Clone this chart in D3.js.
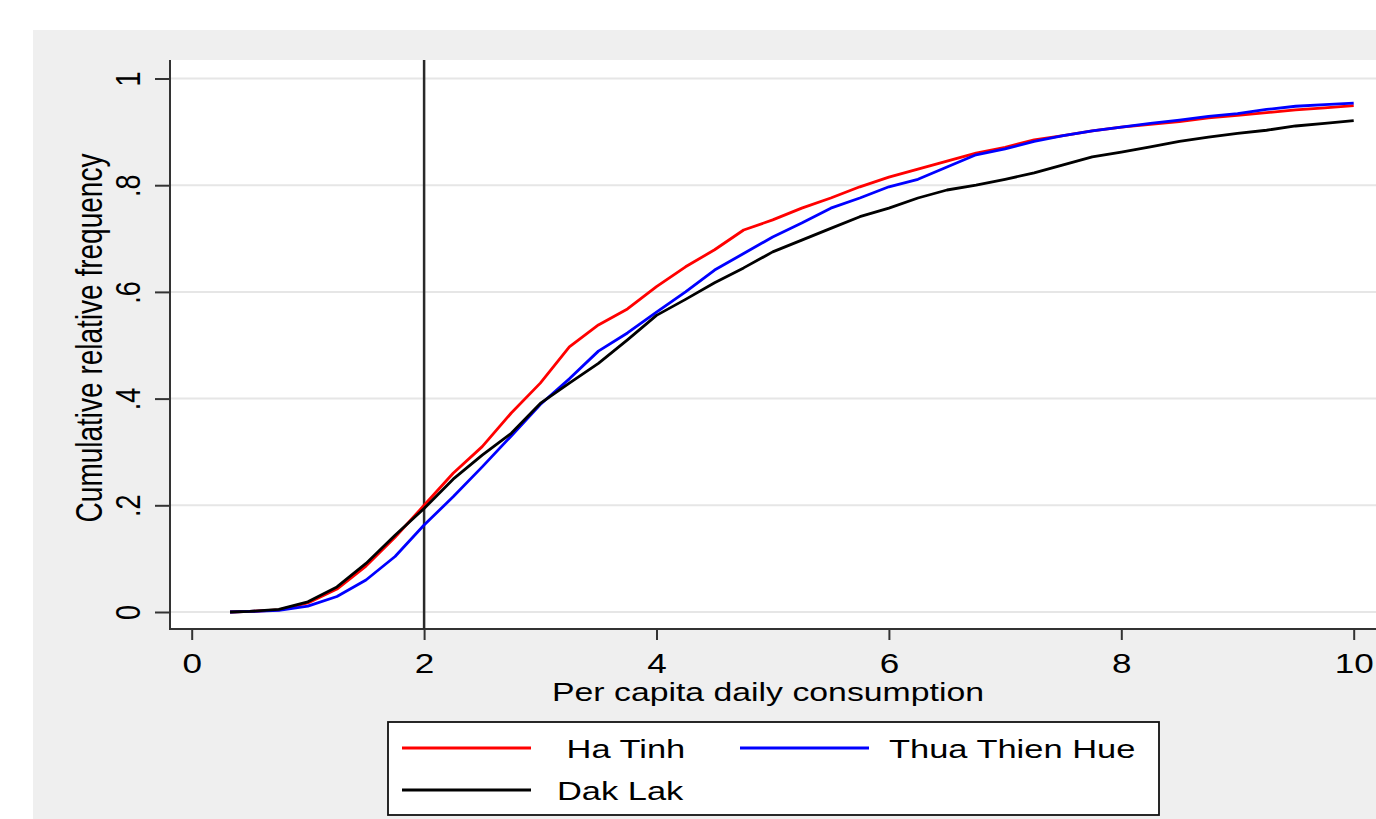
<!DOCTYPE html>
<html>
<head>
<meta charset="utf-8">
<script src="https://cdn.jsdelivr.net/npm/d3@7"></script>
<style>
  html, body { margin: 0; padding: 0; background: #fff; }
  svg { display: block; font-family: "Liberation Sans", Arial, sans-serif; }
</style>
</head>
<body>
<main></main>
<script>
// cumulative distribution of per capita daily consumption
let consumption = [0.33, 0.5, 0.75, 1.0, 1.25, 1.5, 1.75, 2.0, 2.25, 2.5, 2.75, 3.0, 3.25, 3.5, 3.75,
  4.0, 4.25, 4.5, 4.75, 5.0, 5.25, 5.5, 5.75, 6.0, 6.25, 6.5, 6.75, 7.0, 7.25, 7.5, 7.75,
  8.0, 8.25, 8.5, 8.75, 9.0, 9.25, 9.5, 9.75, 10.0];

let haTinh = [0, 0.001, 0.004, 0.017, 0.043, 0.086, 0.14, 0.2, 0.26, 0.31, 0.373, 0.429, 0.497, 0.538, 0.568,
  0.61, 0.647, 0.679, 0.716, 0.735, 0.757, 0.776, 0.797, 0.815, 0.83, 0.845, 0.86, 0.871, 0.885, 0.893, 0.902,
  0.909, 0.914, 0.919, 0.926, 0.931, 0.936, 0.941, 0.945, 0.949];

let thuaThienHue = [0, 0.001, 0.003, 0.011, 0.029, 0.06, 0.104, 0.163, 0.216, 0.272, 0.33, 0.389, 0.437, 0.489, 0.523,
  0.562, 0.6, 0.641, 0.672, 0.703, 0.729, 0.757, 0.776, 0.797, 0.811, 0.834, 0.857, 0.868, 0.882, 0.893, 0.902,
  0.909, 0.916, 0.922, 0.929, 0.934, 0.942, 0.948, 0.951, 0.954];

let dakLak = [0, 0.001, 0.005, 0.019, 0.047, 0.091, 0.144, 0.194, 0.249, 0.294, 0.335, 0.391, 0.429, 0.466, 0.51,
  0.556, 0.586, 0.617, 0.645, 0.675, 0.697, 0.719, 0.741, 0.757, 0.776, 0.791, 0.8, 0.811, 0.823, 0.838, 0.853,
  0.862, 0.872, 0.882, 0.89, 0.897, 0.903, 0.911, 0.916, 0.921];

let xTicks = [0, 2, 4, 6, 8, 10];
let yTicks = [0, 0.2, 0.4, 0.6, 0.8, 1];
let yTickLabels = ['0', '.2', '.4', '.6', '.8', '1'];
let povertyLine = 2;

let seriesNames = ['Ha Tinh', 'Thua Thien Hue', 'Dak Lak'];
let seriesColors = ['#ff0000', '#0000ff', '#000000'];
let seriesValues = [haTinh, thuaThienHue, dakLak];

let width = 1376;
let height = 819;
let stretch = 1.3; // the original picture is wider than tall, text included

let plot = { left: 170, top: 60, right: 1400, bottom: 629 };

let svg = d3.select('main')
  .append('svg')
  .attr('width', width)
  .attr('height', height);

// grey graph region and white plot region
svg.append('rect')
  .attr('x', 33).attr('y', 30)
  .attr('width', width - 33).attr('height', height - 30)
  .attr('fill', '#efefef');

svg.append('rect')
  .attr('x', plot.left).attr('y', plot.top)
  .attr('width', plot.right - plot.left).attr('height', plot.bottom - plot.top)
  .attr('fill', '#fff');

let x = d3.scaleLinear().domain([0, 10]).range([191.7, 1353.7]);
let y = d3.scaleLinear().domain([0, 1]).range([612, 78.5]);

// gridlines
svg.append('g')
  .selectAll('line')
  .data(yTicks)
  .enter().append('line')
  .attr('x1', plot.left).attr('x2', plot.right)
  .attr('y1', d => y(d)).attr('y2', d => y(d))
  .attr('stroke', '#e6e6e6')
  .attr('stroke-width', 2);

// y axis
let yAxis = svg.append('g')
  .attr('transform', `translate(${plot.left},0)`)
  .call(d3.axisLeft(y).tickValues(yTicks).tickSize(15).tickFormat((d, i) => yTickLabels[i]));
yAxis.select('.domain').remove();
yAxis.selectAll('.tick line').attr('stroke', '#333').attr('stroke-width', 2);
yAxis.selectAll('.tick text').remove();
yAxis.selectAll('.tick')
  .append('text')
  .attr('transform', `translate(${140 - plot.left},0) scale(${stretch},1) rotate(-90)`)
  .attr('text-anchor', 'middle')
  .attr('fill', '#000')
  .style('font-size', '27px')
  .text((d, i) => yTickLabels[i]);

// x axis
let xAxis = svg.append('g')
  .attr('transform', `translate(0,${plot.bottom})`)
  .call(d3.axisBottom(x).tickValues(xTicks).tickSize(11).tickFormat(d3.format('d')));
xAxis.select('.domain').remove();
xAxis.selectAll('.tick line').attr('stroke', '#333').attr('stroke-width', 2);
xAxis.selectAll('.tick text').remove();
xAxis.selectAll('.tick')
  .append('text')
  .attr('transform', `translate(0,44) scale(${stretch},1)`)
  .attr('text-anchor', 'middle')
  .attr('fill', '#000')
  .style('font-size', '27px')
  .text(d => d);

// axis lines
svg.append('line')
  .attr('x1', plot.left).attr('x2', plot.left)
  .attr('y1', plot.top).attr('y2', plot.bottom + 1)
  .attr('stroke', '#333').attr('stroke-width', 2);
svg.append('line')
  .attr('x1', plot.left - 1).attr('x2', plot.right)
  .attr('y1', plot.bottom).attr('y2', plot.bottom)
  .attr('stroke', '#333').attr('stroke-width', 2);

// vertical reference line at 2
svg.append('line')
  .attr('x1', x(povertyLine)).attr('x2', x(povertyLine))
  .attr('y1', plot.top).attr('y2', plot.bottom)
  .attr('stroke', '#2a2a2a').attr('stroke-width', 2.5);

// cumulative curves
let line = d3.line()
  .x((d, i) => x(consumption[i]))
  .y(d => y(d));

svg.append('g')
  .selectAll('path')
  .data(seriesValues)
  .enter().append('path')
  .attr('d', line)
  .attr('fill', 'none')
  .attr('stroke', (d, i) => seriesColors[i])
  .attr('stroke-width', 2.8)
  .attr('stroke-linejoin', 'round');

// axis titles
svg.append('text')
  .attr('transform', `translate(102,338) scale(${stretch},1) rotate(-90)`)
  .attr('text-anchor', 'middle')
  .attr('fill', '#000')
  .style('font-size', '28px')
  .text('Cumulative relative frequency');

svg.append('text')
  .attr('transform', `translate(768,701) scale(${stretch},1)`)
  .attr('text-anchor', 'middle')
  .attr('fill', '#000')
  .style('font-size', '26px')
  .text('Per capita daily consumption');

// legend
let legend = svg.append('g');
legend.append('rect')
  .attr('x', 388).attr('y', 722)
  .attr('width', 771).attr('height', 93)
  .attr('fill', '#fff')
  .attr('stroke', '#111')
  .attr('stroke-width', 1.8);

let legendPos = [[402, 748], [740, 748], [402, 790]];
let legendLabels = [' Ha Tinh', 'Thua Thien Hue', 'Dak Lak'];

let items = legend.selectAll('.item')
  .data(seriesNames)
  .enter().append('g')
  .attr('class', 'item')
  .attr('transform', (d, i) => `translate(${legendPos[i][0]},${legendPos[i][1]})`);

items.append('line')
  .attr('x1', 0).attr('x2', 129)
  .attr('y1', 0).attr('y2', 0)
  .attr('stroke', (d, i) => seriesColors[i])
  .attr('stroke-width', 2.8);

items.append('text')
  .attr('transform', (d, i) => `translate(${i === 1 ? 149 : 155},10) scale(${stretch},1)`)
  .attr('fill', '#000')
  .style('font-size', '26.5px')
  .style('white-space', 'pre')
  .text((d, i) => legendLabels[i]);
</script>
</body>
</html>
